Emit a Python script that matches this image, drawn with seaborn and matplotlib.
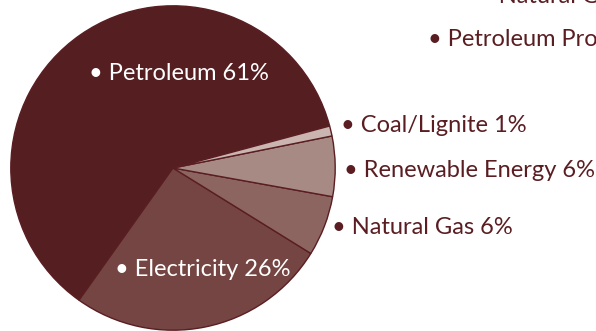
import matplotlib
matplotlib.use("Agg")
import matplotlib.pyplot as plt
import seaborn as sns

# =====================================================
# DATA
# =====================================================

sources = ["Petroleum", "Electricity", "Natural Gas", "Renewable Energy", "Coal/Lignite"]
shares = [61, 26, 6, 6, 1]

colors = ["#551e21", "#744542", "#8d6560", "#a88a84", "#cbb5b1"]

# labels of a neighbouring chart, cut by the image edge
cut_labels = ["Natural Gas", "Petroleum Products"]

TEXT_DARK = "#5a1e22"

# =====================================================
# PLOT
# =====================================================

sns.set_style("white")
plt.rcParams["font.family"] = ["Lato", "DejaVu Sans"]

W, H = 596, 331
fig = plt.figure(figsize=(W / 100, H / 100), dpi=100)

ax = fig.add_axes([10 / W, 0 / H, 326 / W, 326 / H])
ax.pie(
    shares,
    colors=colors,
    startangle=15,
    counterclock=True,
    radius=1,
    wedgeprops={"edgecolor": TEXT_DARK, "linewidth": 1},
)
ax.set_xlim(-1.005, 1.005)
ax.set_ylim(-1.005, 1.005)
ax.set_aspect("equal")
ax.axis("off")


def put(x, y, s, color):
    fig.text(x / W, 1 - y / H, "\u2022 " + s, color=color,
             fontsize=17, ha="left", va="center")


labels = [f"{s} {v}%" for s, v in zip(sources, shares)]

put(89, 74, labels[0], "white")
put(115, 270, labels[1], "white")
put(332, 228, labels[2], TEXT_DARK)
put(344, 170, labels[3], TEXT_DARK)
put(341, 126, labels[4], TEXT_DARK)
put(479, -4, cut_labels[0], TEXT_DARK)
put(428, 40, cut_labels[1], TEXT_DARK)

fig.savefig("out.png", dpi=100)
